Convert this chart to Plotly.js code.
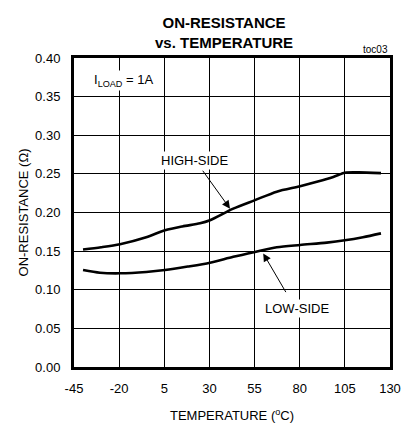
<!DOCTYPE html>
<html><head><meta charset="utf-8">
<script src="https://cdn.plot.ly/plotly-3.0.1.min.js"></script>
<style>html,body{margin:0;padding:0;background:#fff}</style>
</head><body><div id="chart" style="width:411px;height:427px"></div>
<script>
const tempHigh = [-40, -30, -19.5, -5, 5.4, 15, 24.8, 30.3, 43.2, 55.2, 67.3, 80.2, 90, 98.6, 105, 112.5, 125];
const highSide = [0.152, 0.155, 0.159, 0.168, 0.177, 0.182, 0.186, 0.190, 0.205, 0.216, 0.227, 0.234, 0.240, 0.246, 0.2515, 0.252, 0.251];
const tempLow = [-40, -30.6, -19.5, -5, 5.4, 18, 30.3, 43.2, 55.2, 67.3, 80.2, 95, 105, 115, 125];
const lowSide = [0.1255, 0.122, 0.1213, 0.123, 0.1255, 0.130, 0.135, 0.1427, 0.149, 0.155, 0.158, 0.161, 0.164, 0.168, 0.173];
const xTicks = [-45, -20, 5, 30, 55, 80, 105, 130];
const yTicks = [0, 0.05, 0.10, 0.15, 0.20, 0.25, 0.30, 0.35, 0.40];

const font = 'Liberation Sans, Arial, sans-serif';
const traces = [
  {x: tempHigh, y: highSide, mode: 'lines', line: {color: '#000', width: 2.6, shape: 'spline', smoothing: 0.8}, hoverinfo: 'skip'},
  {x: tempLow, y: lowSide, mode: 'lines', line: {color: '#000', width: 2.6, shape: 'spline', smoothing: 0.8}, hoverinfo: 'skip'}
];
const layout = {
  width: 411, height: 427,
  margin: {l: 74, r: 21, t: 58, b: 60},
  paper_bgcolor: '#fff', plot_bgcolor: '#fff',
  showlegend: false,
  font: {family: font, color: '#000', size: 13},
  xaxis: {range: [-45, 130], tickvals: xTicks, ticktext: xTicks.map(String), showgrid: true, gridcolor: '#000', gridwidth: 1,
          showline: true, linecolor: '#000', linewidth: 3, mirror: true, zeroline: false, ticks: '', ticklabelstandoff: 7,
          tickfont: {family: font, size: 13, color: '#000'},
          title: {text: 'TEMPERATURE (<sup>o</sup>C)', font: {family: font, size: 13, color: '#000'}, standoff: 17}},
  yaxis: {range: [0, 0.4], tickvals: yTicks, ticktext: yTicks.map(v => v.toFixed(2)), showgrid: true, gridcolor: '#000', gridwidth: 1,
          showline: true, linecolor: '#000', linewidth: 3, mirror: true, zeroline: false, ticks: '', ticklabelstandoff: 8,
          tickfont: {family: font, size: 13, color: '#000'},
          title: {text: 'ON-RESISTANCE (Ω)', font: {family: font, size: 13, color: '#000'}, standoff: 4}},
  annotations: [
    {x: (224 - 74) / 316, xref: 'paper', xanchor: 'center', y: 1, yref: 'paper', yanchor: 'bottom', yshift: 5,
     text: '<b>ON-RESISTANCE<br>vs. TEMPERATURE</b>', showarrow: false, font: {family: font, size: 15, color: '#000'}},
    {x: 1, xref: 'paper', xanchor: 'right', y: 1, yref: 'paper', yanchor: 'bottom', yshift: 1, text: 'toc03', showarrow: false, font: {family: font, size: 10, color: '#000'}},
    {x: -35, y: 0.371, xref: 'x', yref: 'y', xanchor: 'left', yanchor: 'middle', text: 'I<sub>LOAD</sub> = 1A', showarrow: false, bgcolor: '#fff', font: {family: font, size: 13, color: '#000'}},
    {x: 41.4, y: 0.205, ax: 25.7, ay: 0.256, xref: 'x', yref: 'y', axref: 'x', ayref: 'y', text: '', showarrow: true, arrowhead: 2, arrowsize: 1.6, arrowwidth: 1, arrowcolor: '#000'},
    {x: 22, y: 0.267, xref: 'x', yref: 'y', text: 'HIGH-SIDE', showarrow: false, bgcolor: '#fff', font: {family: font, size: 13, color: '#000'}},
    {x: 59.8, y: 0.147, ax: 72.8, ay: 0.095, xref: 'x', yref: 'y', axref: 'x', ayref: 'y', text: '', showarrow: true, arrowhead: 2, arrowsize: 1.6, arrowwidth: 1, arrowcolor: '#000'},
    {x: 78.3, y: 0.076, xref: 'x', yref: 'y', text: 'LOW-SIDE', showarrow: false, bgcolor: '#fff', font: {family: font, size: 13, color: '#000'}}
  ]
};
Plotly.newPlot('chart', traces, layout, {staticPlot: true, displayModeBar: false});
</script></body></html>
